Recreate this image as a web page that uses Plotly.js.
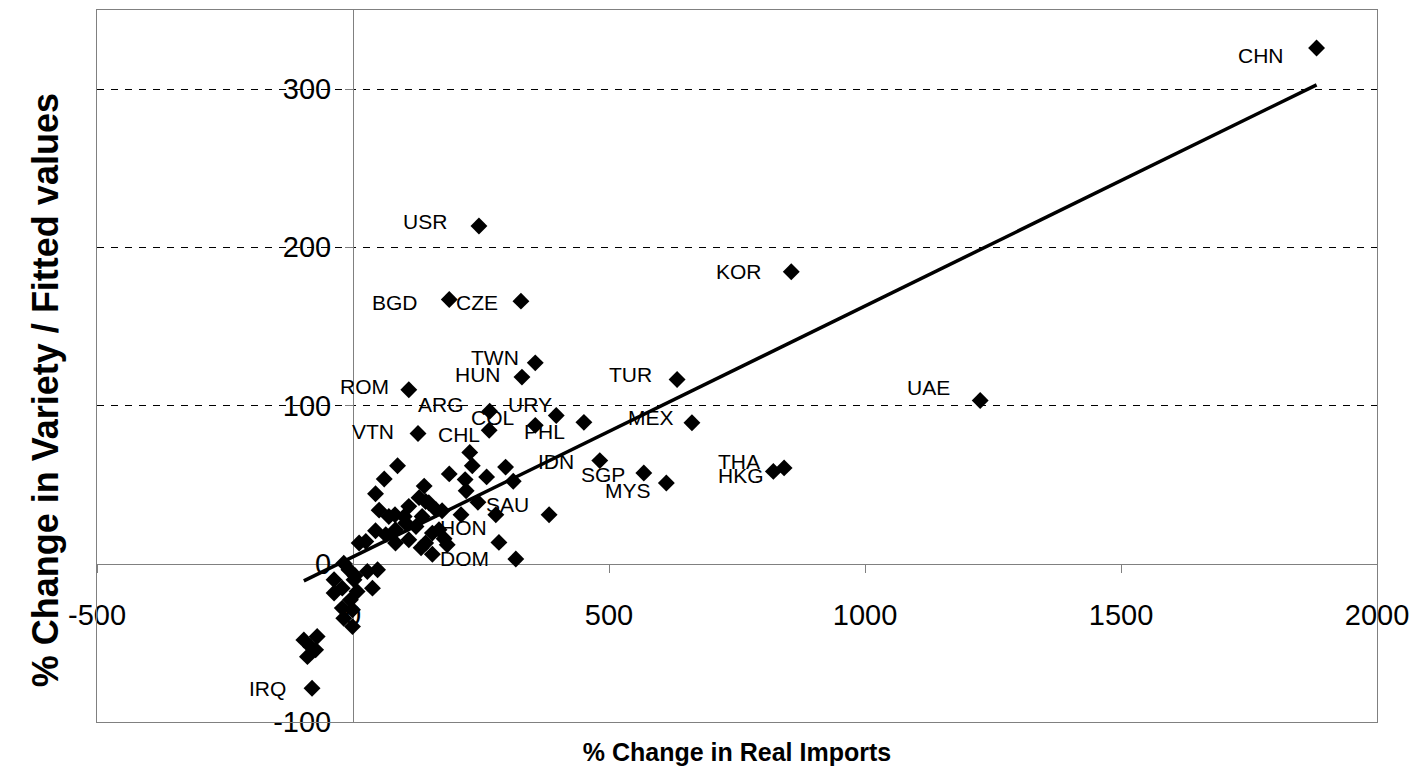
<!DOCTYPE html>
<html>
<head>
<meta charset="utf-8">
<script src="https://cdn.plot.ly/plotly-3.0.1.min.js"></script>
<style>html,body{margin:0;padding:0;background:#fff;}#chart{width:1414px;height:778px;}</style>
</head>
<body>
<div id="chart"></div>
<script>
// Country labels ('' = unlabeled point)
const labels = [
  'CHN','USR','BGD','CZE','TWN','HUN','TUR','KOR','UAE','MEX','THA','HKG','ROM','VTN','ARG','URY','COL','PHL','CHL','IDN','SGP','MYS','SAU','HON','DOM','IRQ',
  '','','','','','','','','','','','','','','','','','','','','','','','','','','',
  '','','','','','','','','','','','','','',
  '','','','','','','','','','','','','','','','','','','','',''
];
// % change in real imports
const realImports = [
  1882,246,188,328,356,330,633,856,1225,662,842,821,109,127,267,397,356,451,266,482,568,612,383,279,318,-80,
  87,61,44,139,51,82,44,12,25,228,233,188,219,261,298,313,221,244,174,211,168,178,184,133,155,285,142,83,
  129,109,148,162,100,70,103,123,83,155,142,109,64,135,
  -18,28,48,-37,-21,2,8,-37,38,-5,-21,-18,-1,-1,-96,-70,-83,-73,-89,-8,4
];
// % change in variety
const variety = [
  326,213.5,167,166,127,118,116.5,184.6,103.2,89.1,60.6,58.4,110,82.3,96.4,93.7,87.5,89.4,84.4,65.2,57.4,51.1,31,31,3,-78.7,
  62,53.6,44.3,49.1,33.9,31,20.9,13.1,14.1,70.4,62,56.8,53.2,54.9,61.1,52.2,46.2,38.9,33.5,31,21.5,15.8,12,10.1,6,13.5,39.4,13.1,
  41.8,36.3,38.6,34.2,29.9,29.9,25.8,23.6,21.5,19.4,13.1,15.2,18.4,29.9,
  0.4,-4.9,-3.8,-10.1,-15.4,-10.1,-17.5,-18.5,-15.4,-22.8,-28,-34.4,-39.7,-29.1,-48.1,-46,-52.3,-54.4,-58.7,-3.8,-7.6
];
// Fitted values (regression line end points)
const fitX = [-96, 1882];
const fitY = [-10.8, 302.7];

// Axis ticks
const xTicks = [-500, 0, 500, 1000, 1500, 2000];
const yTicks = [-100, 0, 100, 200, 300];
const yGrid = [100, 200, 300];
const xRange = [-500, 2000];
const yRange = [-100, 350];

// label offsets in px (text styling, not data)
const labelOffsets = {
  CHN:[-31,8], USR:[-30,-4], BGD:[-29,3], CZE:[-21,1], TWN:[-14,-5], HUN:[-19,-3], TUR:[-23,-5],
  KOR:[-27,0], UAE:[-28,-13], MEX:[-16,-5], THA:[-22,-6], HKG:[-7,4], ROM:[-18,-3], VTN:[-22,-2],
  ARG:[-24,-7], URY:[-2,-11], COL:[-19,-8], PHL:[-17,9], CHL:[-7,4], IDN:[-24,1], SGP:[-17,2],
  MYS:[-13,8], SAU:[-18,-10], HON:[-7,13], DOM:[-25,-1], IRQ:[-24,0]
};

const FONT = 'Liberation Sans, Arial, Helvetica, sans-serif';

const annotations = [];
labels.forEach((lab, i) => {
  if (!lab) return;
  const off = labelOffsets[lab] || [-20, 0];
  annotations.push({
    x: realImports[i], y: variety[i], xref: 'x2', yref: 'y2',
    text: lab, showarrow: false, xanchor: 'right', yanchor: 'middle',
    xshift: off[0], yshift: -off[1],
    font: {family: FONT, size: 21, color: '#000'}
  });
});
// y axis title
annotations.push({
  text: '% Change in Variety / Fitted values', xref: 'paper', yref: 'paper',
  x: -0.0406, y: 0.466, xanchor: 'center', yanchor: 'middle', textangle: -90, showarrow: false,
  font: {family: FONT, size: 36, color: '#000', weight: 'bold'}
});

const traces = [
  {
    x: fitX, y: fitY, xaxis: 'x', yaxis: 'y', mode: 'lines',
    line: {color: '#000', width: 3.5}, hoverinfo: 'skip', showlegend: false
  },
  {
    x: realImports, y: variety, xaxis: 'x2', yaxis: 'y2', mode: 'markers',
    marker: {symbol: 'diamond', size: 13, color: '#000'},
    text: labels, showlegend: false, cliponaxis: false
  }
];

const xZeroPos = (0 - yRange[0]) / (yRange[1] - yRange[0]);
const yZeroPos = (0 - xRange[0]) / (xRange[1] - xRange[0]);

const layout = {
  width: 1414, height: 778,
  margin: {l: 97, r: 37, t: 10, b: 56},
  paper_bgcolor: '#fff', plot_bgcolor: '#fff',
  showlegend: false,
  font: {family: FONT, color: '#000'},
  xaxis: {
    range: xRange, showline: true, mirror: true, linecolor: '#808080', linewidth: 1,
    showgrid: false, zeroline: false, showticklabels: false, ticks: '',
    title: {text: '% Change in Real Imports', font: {family: FONT, size: 25, color: '#000', weight: 'bold'}, standoff: 21}
  },
  yaxis: {
    range: yRange, showline: true, mirror: true, linecolor: '#808080', linewidth: 1,
    tickvals: yGrid, showgrid: true, gridcolor: '#000', gridwidth: 1, griddash: '7px,7px',
    showticklabels: false, ticks: '', zeroline: false
  },
  xaxis2: {
    overlaying: 'x', anchor: 'free', position: xZeroPos, range: xRange,
    tickvals: xTicks, ticktext: xTicks.map(String), ticks: 'outside', ticklen: 8, tickcolor: '#808080',
    showline: true, linecolor: '#808080', linewidth: 1, showgrid: false, zeroline: false,
    tickfont: {family: FONT, size: 29, color: '#000'}, ticklabelstandoff: 17, layer: 'below traces'
  },
  yaxis2: {
    overlaying: 'y', anchor: 'free', position: yZeroPos, side: 'left', range: yRange,
    tickvals: yTicks, ticktext: yTicks.map(String), ticks: 'outside', ticklen: 8, tickcolor: '#808080',
    showline: true, linecolor: '#808080', linewidth: 1, showgrid: false, zeroline: false,
    tickfont: {family: FONT, size: 29, color: '#000'}, ticklabelstandoff: 8, layer: 'below traces'
  },
  annotations: annotations
};

Plotly.newPlot('chart', traces, layout, {displayModeBar: false, staticPlot: true});
</script>
</body>
</html>
